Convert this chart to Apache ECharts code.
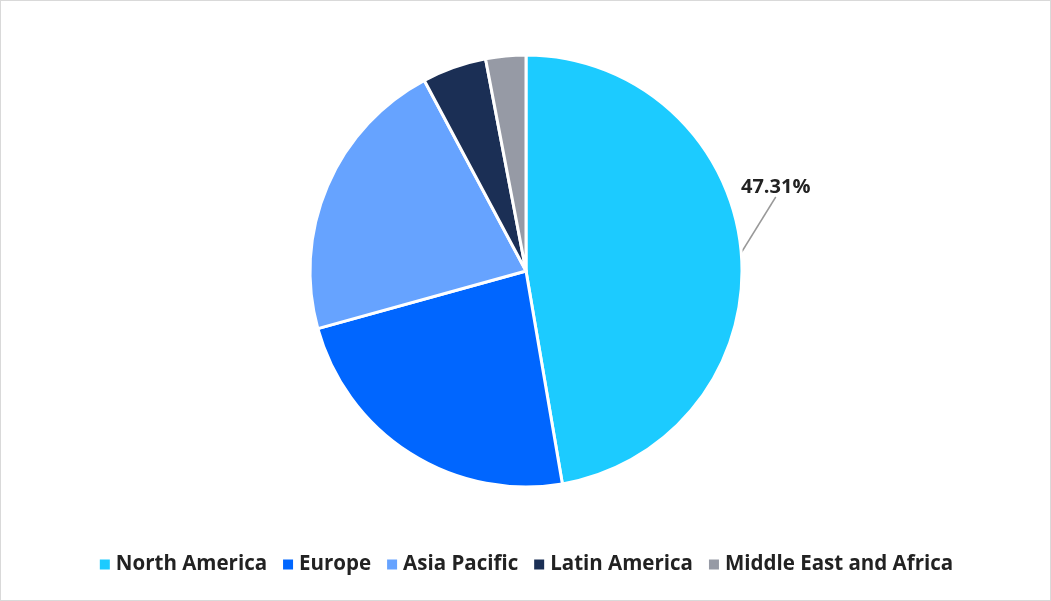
<!DOCTYPE html>
<html><head><meta charset="utf-8">
<script src="https://cdn.jsdelivr.net/npm/echarts@6/dist/echarts.min.js"></script>
<style>html,body{margin:0;padding:0;background:#fff}#c{width:1049px;height:599px;border:1px solid #d9d9d9}</style>
</head><body><div id="c"></div>
<script>
var regions = ['North America', 'Europe', 'Asia Pacific', 'Latin America', 'Middle East and Africa'];
var shares = [47.31, 23.4, 21.5, 4.8, 3.0];
var colors = ['#1CCBFF', '#0066FF', '#66A3FF', '#1B2F55', '#969AA5'];

var myChart = echarts.init(document.getElementById('c'));
var option = {
  color: colors,
  legend: {
    bottom: 20, left: 'center', itemWidth: 12, itemHeight: 12, icon: 'rect', itemGap: 14,
    textStyle: { fontSize: 20.5, fontWeight: 'bold', color: '#222', fontFamily: 'Open Sans' }
  },
  series: [{
    type: 'pie', center: [525, 270], radius: 216, startAngle: 90, clockwise: true,
    itemStyle: { borderColor: '#fff', borderWidth: 3 },
    labelLine: { length: 15, length2: 0, lineStyle: { color: '#999', width: 1.5 } },
    labelLayout: function (p) {
      if (p.dataIndex === 0) return { x: 740, y: 186, align: 'left', verticalAlign: 'middle' };
    },
    data: regions.map(function (n, i) {
      return {
        name: n, value: shares[i],
        label: i === 0 ? { show: true, formatter: '{c}%', fontSize: 20, fontWeight: 'bold', color: '#222', fontFamily: 'Open Sans' } : { show: false },
        labelLine: { show: i === 0 }
      };
    })
  }]
};
myChart.setOption(option);
</script></body></html>
